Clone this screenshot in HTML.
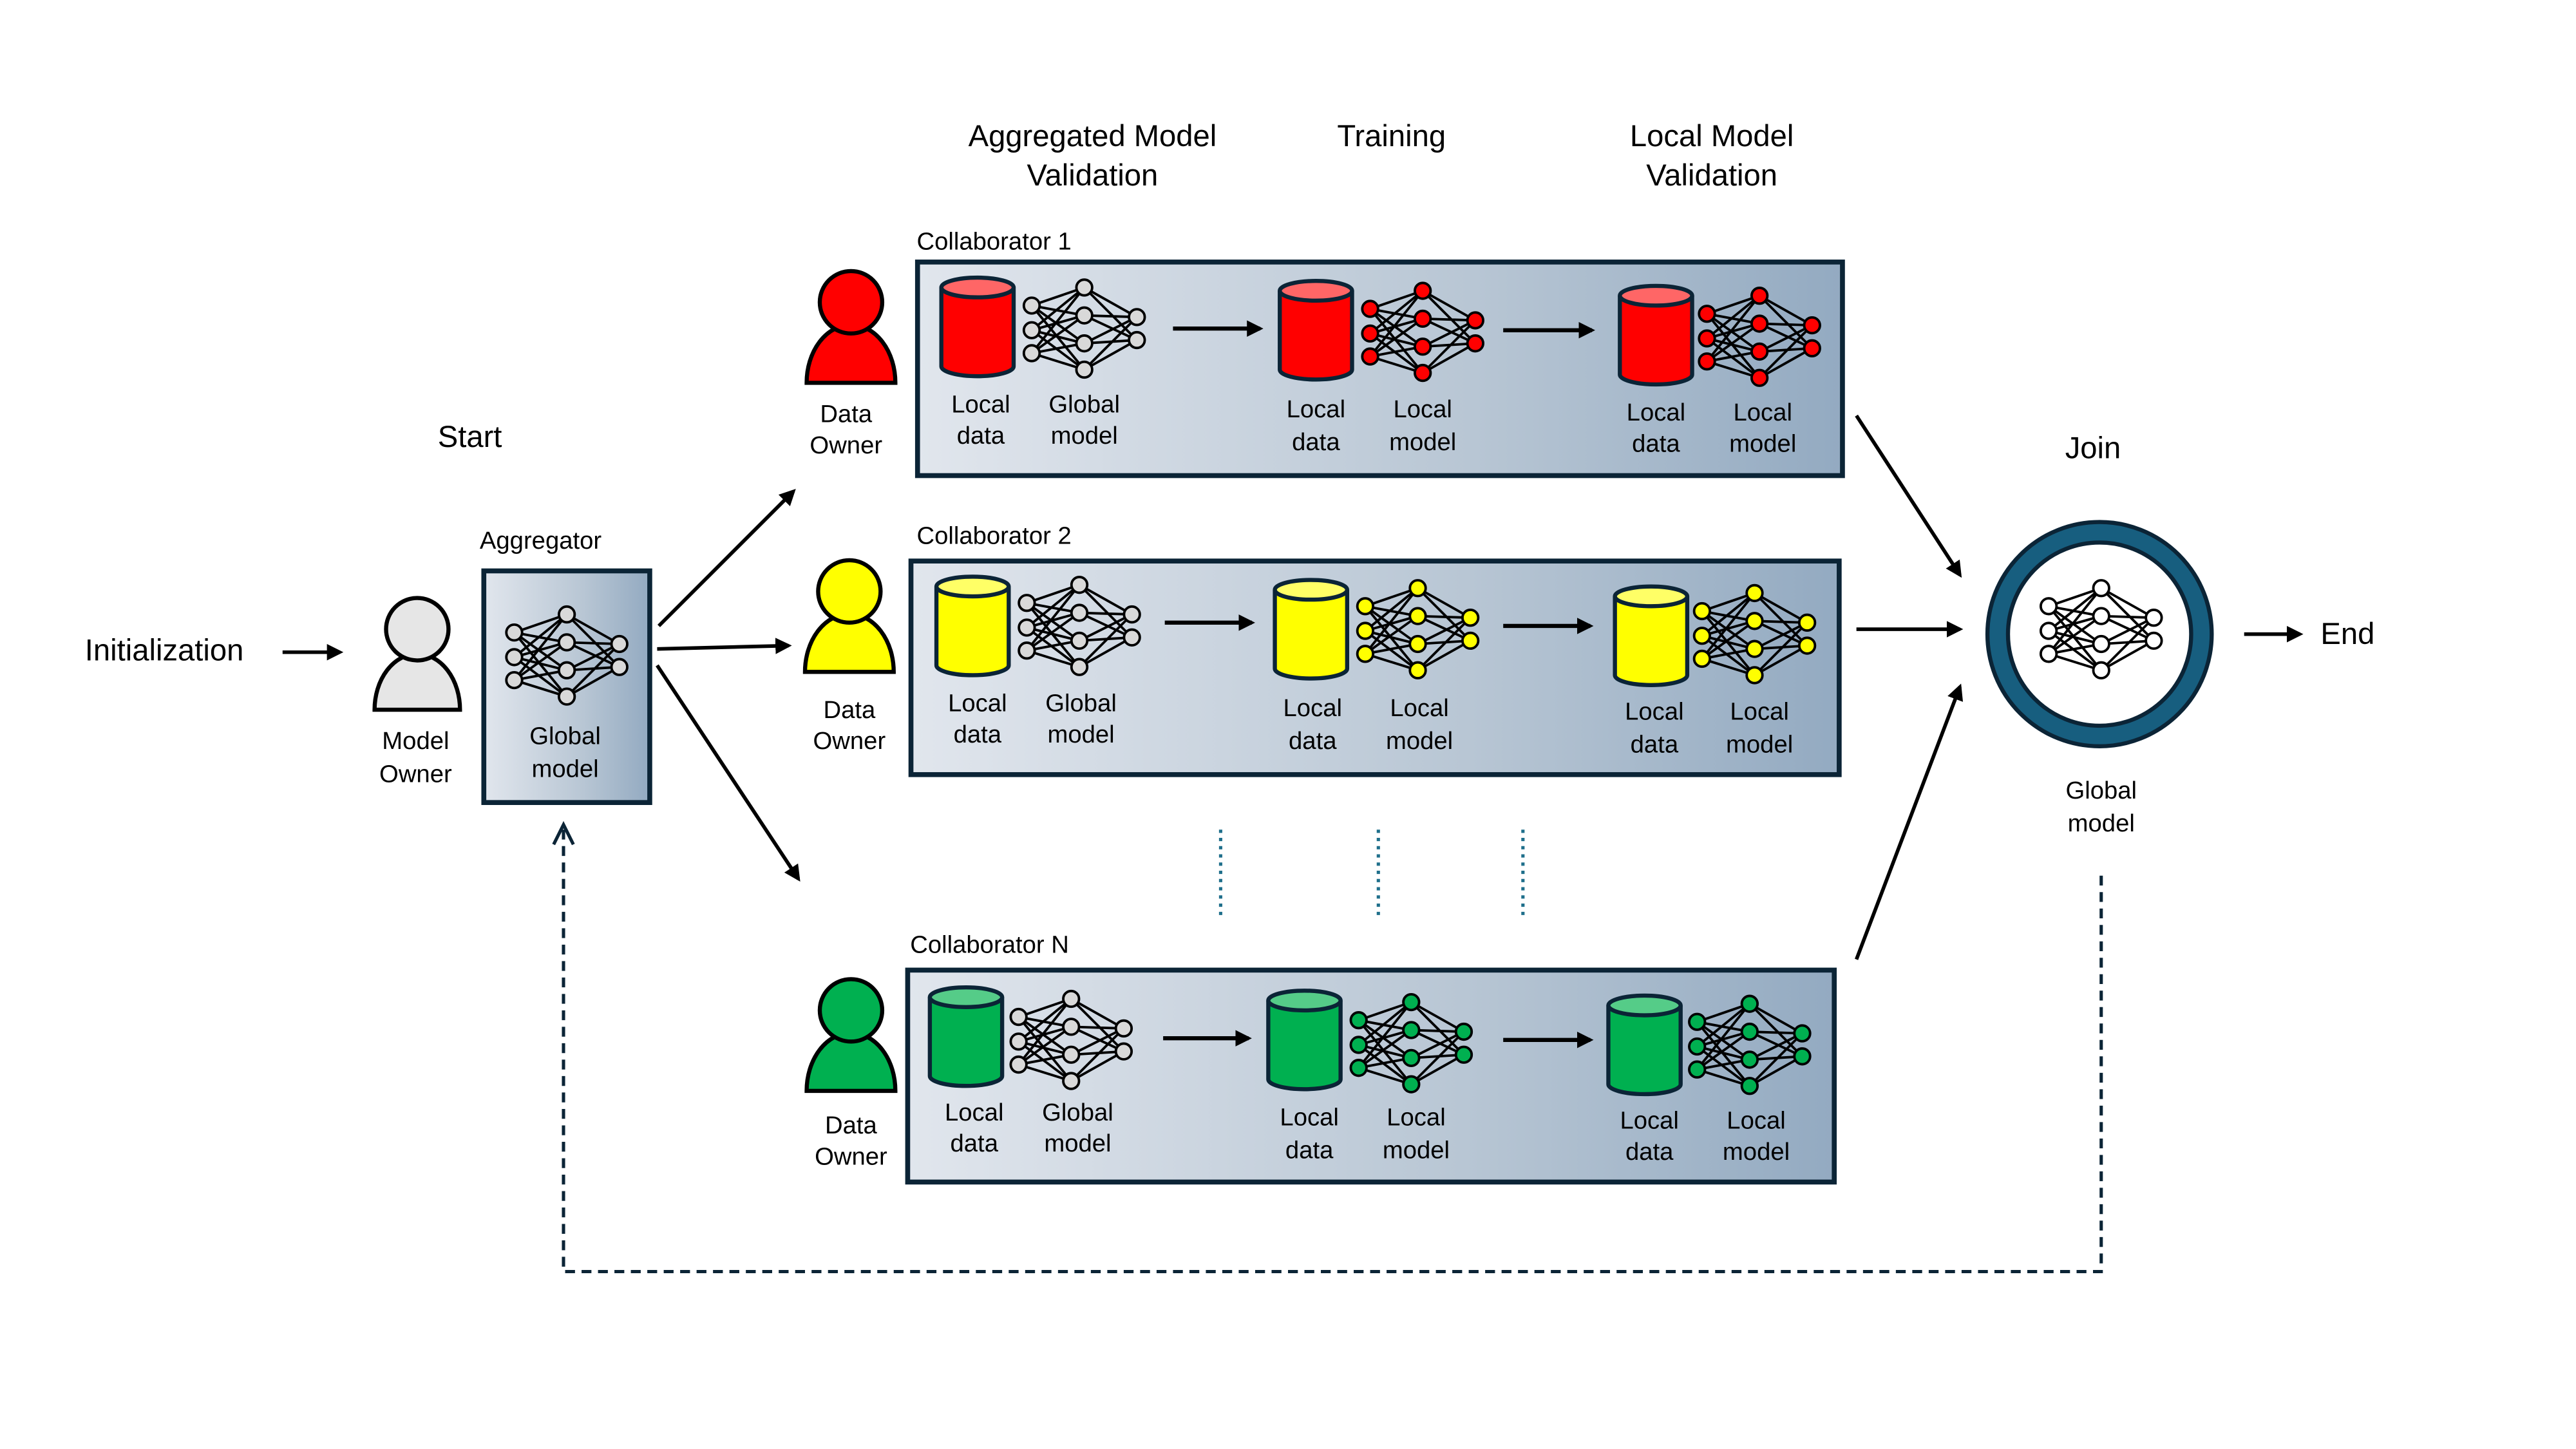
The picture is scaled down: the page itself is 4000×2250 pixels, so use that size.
<!DOCTYPE html>
<html><head><meta charset="utf-8"><style>
html,body{margin:0;padding:0;background:#fff;}
svg{display:block}
text{font-family:"Liberation Sans",sans-serif;fill:#000;}
</style></head><body>
<svg width="4000" height="2250" viewBox="0 0 1568 882" xmlns="http://www.w3.org/2000/svg">
<defs>
<linearGradient id="gr" x1="0" x2="1" y1="0" y2="0"><stop offset="0" stop-color="#e1e6ed"/><stop offset="0.6" stop-color="#b8c6d4"/><stop offset="1" stop-color="#93aac1"/></linearGradient>
<marker id="ah" markerWidth="10" markerHeight="10" refX="8" refY="5" orient="auto" markerUnits="userSpaceOnUse"><path d="M0,0 L10,5 L0,10 Z" fill="#000"/></marker>
<symbol id="net" viewBox="0 0 74 60" width="74" height="60" overflow="visible">
<g stroke="#000" stroke-width="1.5">
<path d="M5 16L37 5M5 16L37 22M5 16L37 39M5 16L37 55M5 31L37 5M5 31L37 22M5 31L37 39M5 31L37 55M5 45L37 5M5 45L37 22M5 45L37 39M5 45L37 55M37 5L69 23M37 5L69 37M37 22L69 23M37 22L69 37M37 39L69 23M37 39L69 37M37 55L69 23M37 55L69 37"/>
<g fill="currentColor"><circle cx="5" cy="16" r="4.8"/><circle cx="5" cy="31" r="4.8"/><circle cx="5" cy="45" r="4.8"/><circle cx="37" cy="5" r="4.8"/><circle cx="37" cy="22" r="4.8"/><circle cx="37" cy="39" r="4.8"/><circle cx="37" cy="55" r="4.8"/><circle cx="69" cy="23" r="4.8"/><circle cx="69" cy="37" r="4.8"/></g>
</g></symbol>
<symbol id="cylR" viewBox="0 0 46 62" width="46" height="62" overflow="visible"><path d="M1 7 L1 55 A22 6 0 0 0 45 55 L45 7" fill="#ff0000" stroke="#0b2436" stroke-width="2.5"/><ellipse cx="23" cy="7" rx="22" ry="6" fill="#ff6666" stroke="#0b2436" stroke-width="2.5"/></symbol>
<symbol id="cylY" viewBox="0 0 46 62" width="46" height="62" overflow="visible"><path d="M1 7 L1 55 A22 6 0 0 0 45 55 L45 7" fill="#ffff00" stroke="#0b2436" stroke-width="2.5"/><ellipse cx="23" cy="7" rx="22" ry="6" fill="#ffff66" stroke="#0b2436" stroke-width="2.5"/></symbol>
<symbol id="cylG" viewBox="0 0 46 62" width="46" height="62" overflow="visible"><path d="M1 7 L1 55 A22 6 0 0 0 45 55 L45 7" fill="#00b050" stroke="#0b2436" stroke-width="2.5"/><ellipse cx="23" cy="7" rx="22" ry="6" fill="#55cc88" stroke="#0b2436" stroke-width="2.5"/></symbol>
</defs>

<g font-size="18.5" text-anchor="middle">
<text x="665" y="89">Aggregated Model</text><text x="665" y="113">Validation</text>
<text x="847" y="89">Training</text>
<text x="1042" y="89">Local Model</text><text x="1042" y="113">Validation</text>
<text x="286" y="272">Start</text>
<text x="1274" y="279">Join</text>
<text x="100" y="402">Initialization</text>
<text x="1429" y="392">End</text>
</g>

<path d="M228 432 A26 34 0 0 1 280 432 Z" fill="#e6e6e6" stroke="#000" stroke-width="2.5"/>
<circle cx="254" cy="383" r="19" fill="#e6e6e6" stroke="#000" stroke-width="2.5"/>
<g font-size="15" text-anchor="middle"><text x="253" y="456">Model</text><text x="253" y="476">Owner</text></g>

<text x="292" y="334" font-size="15">Aggregator</text>
<rect x="294.5" y="347.5" width="101" height="141" fill="url(#gr)" stroke="#0b2436" stroke-width="3"/>
<use href="#net" x="308" y="369" style="color:#d9d9d9"/>
<g font-size="15" text-anchor="middle"><text x="344" y="453">Global</text><text x="344" y="473">model</text></g>

<g stroke="#000" stroke-width="2.2" marker-end="url(#ah)">
<line x1="172" y1="397" x2="207" y2="397"/>
<line x1="401" y1="381" x2="483" y2="299"/>
<line x1="400" y1="395" x2="480" y2="393"/>
<line x1="400" y1="405" x2="486" y2="535"/>
<line x1="1130" y1="253" x2="1193" y2="350"/>
<line x1="1130" y1="383" x2="1193" y2="383"/>
<line x1="1130" y1="584" x2="1193" y2="418"/>
<line x1="1366" y1="386" x2="1400" y2="386"/>
</g>

<path d="M491 233 A26 34 0 0 1 545 233 Z" fill="#ff0000" stroke="#000" stroke-width="2.5"/>
<circle cx="518" cy="184" r="19" fill="#ff0000" stroke="#000" stroke-width="2.5"/>
<path d="M490 409 A26 34 0 0 1 544 409 Z" fill="#ffff00" stroke="#000" stroke-width="2.5"/>
<circle cx="517" cy="360" r="19" fill="#ffff00" stroke="#000" stroke-width="2.5"/>
<path d="M491 664 A26 34 0 0 1 545 664 Z" fill="#00b050" stroke="#000" stroke-width="2.5"/>
<circle cx="518" cy="615" r="19" fill="#00b050" stroke="#000" stroke-width="2.5"/>
<g font-size="15" text-anchor="middle">
<text x="515" y="257">Data</text><text x="515" y="276">Owner</text>
<text x="517" y="437">Data</text><text x="517" y="456">Owner</text>
<text x="518" y="690">Data</text><text x="518" y="709">Owner</text>
</g>

<g font-size="15">
<text x="558" y="152">Collaborator 1</text>
<text x="558" y="331">Collaborator 2</text>
<text x="554" y="580">Collaborator N</text>
</g>
<rect x="558.5" y="159.5" width="563" height="130" fill="url(#gr)" stroke="#0b2436" stroke-width="3"/>
<rect x="554.5" y="341.5" width="565" height="130" fill="url(#gr)" stroke="#0b2436" stroke-width="3"/>
<rect x="552.5" y="590.5" width="564" height="129" fill="url(#gr)" stroke="#0b2436" stroke-width="3"/>

<use href="#cylR" x="572" y="168"/>
<use href="#net" x="623" y="170" style="color:#d9d9d9"/>
<use href="#cylR" x="778" y="170"/>
<use href="#net" x="829" y="172" style="color:#ff0000"/>
<use href="#cylR" x="985" y="173"/>
<use href="#net" x="1034" y="175" style="color:#ff0000"/>
<use href="#cylY" x="569" y="350"/>
<use href="#net" x="620" y="351" style="color:#d9d9d9"/>
<use href="#cylY" x="775" y="352"/>
<use href="#net" x="826" y="353" style="color:#ffff00"/>
<use href="#cylY" x="982" y="356"/>
<use href="#net" x="1031" y="356" style="color:#ffff00"/>
<use href="#cylG" x="565" y="600"/>
<use href="#net" x="615" y="603" style="color:#d9d9d9"/>
<use href="#cylG" x="771" y="602"/>
<use href="#net" x="822" y="605" style="color:#00b050"/>
<use href="#cylG" x="978" y="605"/>
<use href="#net" x="1028" y="606" style="color:#00b050"/>

<g stroke="#000" stroke-width="2.5" marker-end="url(#ah)">
<line x1="714" y1="200" x2="767" y2="200"/>
<line x1="915" y1="201" x2="969" y2="201"/>
<line x1="709" y1="379" x2="762" y2="379"/>
<line x1="915" y1="381" x2="968" y2="381"/>
<line x1="708" y1="632" x2="760" y2="632"/>
<line x1="915" y1="633" x2="968" y2="633"/>
</g>

<g font-size="15" text-anchor="middle">
<text x="597" y="251">Local</text><text x="597" y="270">data</text>
<text x="660" y="251">Global</text><text x="660" y="270">model</text>
<text x="801" y="254">Local</text><text x="801" y="274">data</text>
<text x="866" y="254">Local</text><text x="866" y="274">model</text>
<text x="1008" y="256">Local</text><text x="1008" y="275">data</text>
<text x="1073" y="256">Local</text><text x="1073" y="275">model</text>

<text x="595" y="433">Local</text><text x="595" y="452">data</text>
<text x="658" y="433">Global</text><text x="658" y="452">model</text>
<text x="799" y="436">Local</text><text x="799" y="456">data</text>
<text x="864" y="436">Local</text><text x="864" y="456">model</text>
<text x="1007" y="438">Local</text><text x="1007" y="458">data</text>
<text x="1071" y="438">Local</text><text x="1071" y="458">model</text>

<text x="593" y="682">Local</text><text x="593" y="701">data</text>
<text x="656" y="682">Global</text><text x="656" y="701">model</text>
<text x="797" y="685">Local</text><text x="797" y="705">data</text>
<text x="862" y="685">Local</text><text x="862" y="705">model</text>
<text x="1004" y="687">Local</text><text x="1004" y="706">data</text>
<text x="1069" y="687">Local</text><text x="1069" y="706">model</text>
</g>

<g stroke="#1f6f8b" stroke-width="2" stroke-dasharray="2 3">
<line x1="743" y1="505" x2="743" y2="558"/>
<line x1="839" y1="505" x2="839" y2="558"/>
<line x1="927" y1="505" x2="927" y2="558"/>
</g>

<circle cx="1278" cy="386" r="62" fill="none" stroke="#0b2436" stroke-width="15"/>
<circle cx="1278" cy="386" r="62" fill="none" stroke="#175e7f" stroke-width="10"/>
<circle cx="1278" cy="386" r="54" fill="#fff"/>
<use href="#net" x="1242" y="353" style="color:#fff"/>
<g font-size="15" text-anchor="middle"><text x="1279" y="486">Global</text><text x="1279" y="506">model</text></g>

<path d="M1279 533 L1279 774 L343 774 L343 505" fill="none" stroke="#0b2436" stroke-width="2" stroke-dasharray="6 4"/>
<path d="M337 514 L343 502 L349 514" fill="none" stroke="#0b2436" stroke-width="2"/>
</svg>
</body></html>
